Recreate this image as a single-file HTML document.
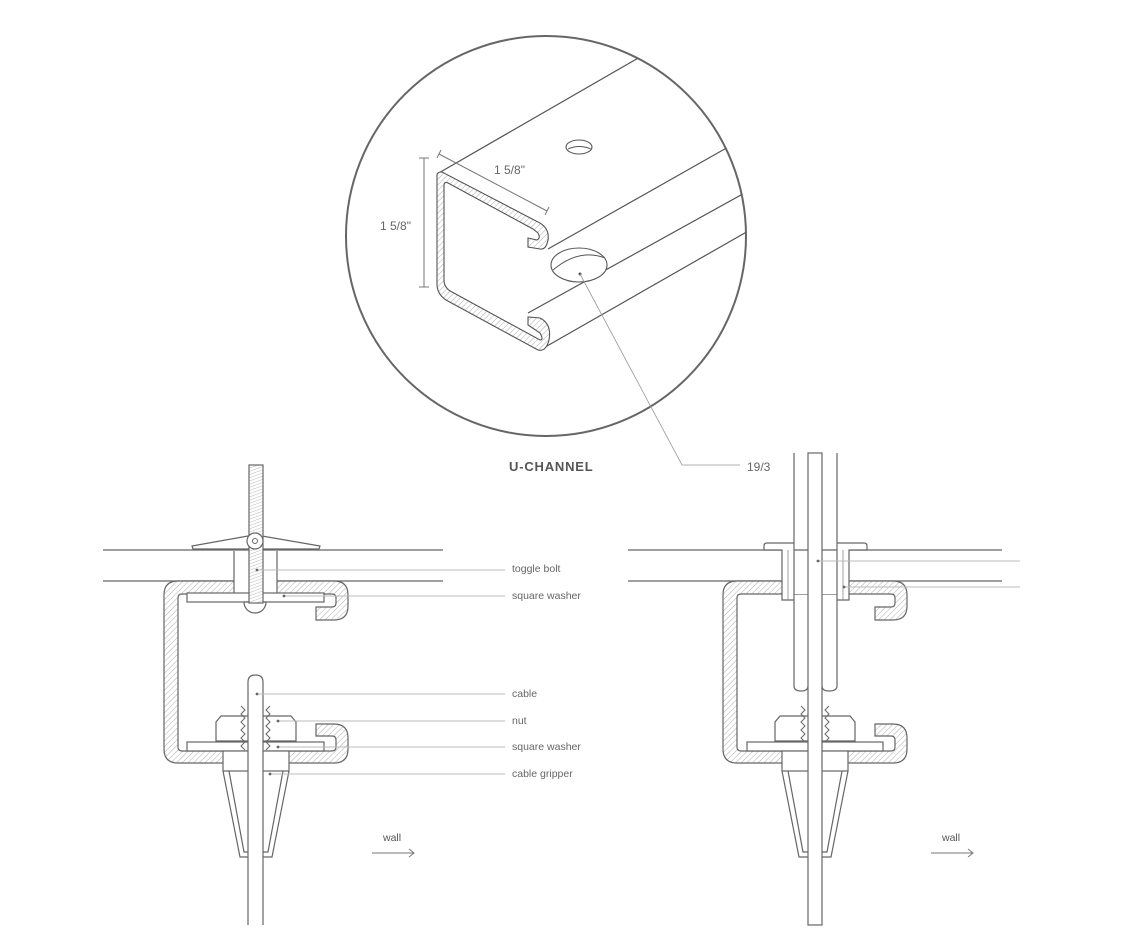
<!DOCTYPE html>
<html><head><meta charset="utf-8"><style>
html,body{margin:0;padding:0;background:#fff}
svg{display:block}
text{font-family:"Liberation Sans",sans-serif;fill:#666}
</style></head><body>
<svg width="1125" height="934" viewBox="0 0 1125 934" xmlns="http://www.w3.org/2000/svg">
<defs>
<pattern id="h" width="4" height="4" patternUnits="userSpaceOnUse" patternTransform="rotate(45)">
<rect width="4" height="4" fill="#fff"/><line x1="0" y1="0" x2="0" y2="4" stroke="#999" stroke-width="0.8"/>
</pattern>
<pattern id="th" width="4" height="3" patternUnits="userSpaceOnUse" patternTransform="rotate(-20)">
<rect width="4" height="3" fill="#fff"/><line x1="0" y1="0" x2="4" y2="0" stroke="#999" stroke-width="0.7"/>
</pattern>
<clipPath id="cc"><circle cx="546" cy="236" r="200"/></clipPath>
<g id="ch">
<path d="M316 620 L334 620 Q348 620 348 606 L348 595 Q348 581 334 581 L178 581 Q164 581 164 595 L164 749 Q164 763 178 763 L334 763 Q348 763 348 749 L348 738 Q348 724 334 724 L316 724 L316 736 L332 736 Q336 736 336 740 L336 747 Q336 751 332 751 L182 751 Q178 751 178 747 L178 598 Q178 594 182 594 L332 594 Q336 594 336 598 L336 603 Q336 607 332 607 L316 607 Z" fill="url(#h)" stroke="#666" stroke-width="1.2"/>
</g>
</defs>

<!-- TOP CIRCLE -->
<circle cx="546" cy="236" r="200" fill="none" stroke="#666" stroke-width="2"/>
<g clip-path="url(#cc)" stroke="#555" stroke-width="1.2" fill="none">
<line x1="437" y1="174" x2="640" y2="57"/>
<line x1="548" y1="249" x2="730" y2="146"/>
<line x1="528" y1="313" x2="750" y2="190"/>
<line x1="540" y1="350" x2="750" y2="230"/>
</g>
<path d="M437 175 Q437 172 442 172 L536 221 Q550 227 548 240 Q546 250 540 249 L528 247 L528 238 L537 240 Q541 238 538 233 L533 229 L448 183 Q444 181 444 186 L444 280 Q444 288 452 292 L540 340 Q544 340 540 333 L528 325 L528 317 L540 318 Q552 324 549 340 Q546 352 538 350 L446 300 Q437 294 437 284 Z" fill="url(#h)" stroke="#555" stroke-width="1.1"/>
<ellipse cx="579" cy="147" rx="13" ry="7" fill="#fff" stroke="#555" stroke-width="1.1"/>
<path d="M568 149 Q579 144 591 149" fill="none" stroke="#555" stroke-width="0.9"/>
<ellipse cx="579" cy="265" rx="28" ry="17" fill="#fff" stroke="#555" stroke-width="1.1"/>
<path d="M553 270 Q579 248 605 258" fill="none" stroke="#555" stroke-width="0.9"/>
<circle cx="580" cy="274" r="1.5" fill="#555"/>
<polyline points="580,274 682,465 740,465" fill="none" stroke="#999" stroke-width="0.8"/>
<!-- dimensions -->
<g stroke="#777" stroke-width="1" fill="none">
<line x1="424" y1="158" x2="424" y2="287"/>
<line x1="419" y1="158" x2="429" y2="158"/><line x1="419" y1="287" x2="429" y2="287"/>
<line x1="439" y1="154" x2="547" y2="211"/>
<line x1="437" y1="158" x2="441" y2="150"/><line x1="545" y1="215" x2="549" y2="207"/>
</g>
<text x="380" y="230" font-size="12">1 5/8"</text>
<text x="494" y="174" font-size="12">1 5/8"</text>
<text x="509" y="471" font-size="13" font-weight="bold" letter-spacing="0.8" style="fill:#555">U-CHANNEL</text>
<text x="747" y="471" font-size="12">19/3</text>
<rect x="770" y="455" width="20" height="20" fill="#fff"/>

<!-- LEFT DIAGRAM -->
<g stroke="#666" stroke-width="1.2" fill="none">
<line x1="103" y1="550" x2="443" y2="550"/>
<line x1="103" y1="581" x2="443" y2="581"/>
</g>
<use href="#ch"/>
<rect x="234" y="551" width="43" height="43" fill="#fff"/>
<line x1="234" y1="551" x2="234" y2="593" stroke="#666" stroke-width="1.2"/>
<line x1="277" y1="551" x2="277" y2="593" stroke="#666" stroke-width="1.2"/>
<rect x="187" y="593" width="137" height="9" fill="#fff" stroke="#666" stroke-width="1.2"/>
<path d="M244 602 A11 11 0 0 0 266 602 Z" fill="#fff" stroke="#666" stroke-width="1.2"/>
<polygon points="193,549 192,546 248,536 262,536 320,546 319,549" fill="#fff" stroke="#666" stroke-width="1.2"/>
<rect x="249" y="465" width="14" height="138" fill="url(#th)" stroke="#666" stroke-width="1.2"/>
<circle cx="255" cy="541" r="8" fill="#fff" stroke="#666" stroke-width="1.2"/>
<circle cx="255" cy="541" r="2.5" fill="#fff" stroke="#666" stroke-width="1"/>
<!-- bottom assembly -->
<path d="M216 741 L216 722 L221 716 L291 716 L296 722 L296 741 Z" fill="#fff" stroke="#666" stroke-width="1.2"/>
<rect x="187" y="742" width="137" height="9" fill="#fff" stroke="#666" stroke-width="1.2"/>
<path d="M241 706 L245 710 L241 714 L245 718 L241 722 L245 726 L241 730 L245 734 L241 738 L245 742 L241 746 L245 750 M270 706 L266 710 L270 714 L266 718 L270 722 L266 726 L270 730 L266 734 L270 738 L266 742 L270 746 L266 750" fill="none" stroke="#666" stroke-width="1"/>
<rect x="223" y="751" width="66" height="20" fill="#fff" stroke="#666" stroke-width="1.2"/>
<path d="M223 771 L240 857 L272 857 L289 771 M229 771 L244 852 L268 852 L283 771" fill="none" stroke="#666" stroke-width="1.2"/>
<path d="M248 925 L248 682 Q248 675 255.5 675 Q263 675 263 682 L263 925" fill="#fff" stroke="#666" stroke-width="1.2"/>
<!-- leaders left -->
<g stroke="#bbb" stroke-width="0.9">
<line x1="257" y1="570" x2="505" y2="570"/>
<line x1="284" y1="596" x2="505" y2="596"/>
<line x1="257" y1="694" x2="505" y2="694"/>
<line x1="278" y1="721" x2="505" y2="721"/>
<line x1="278" y1="747" x2="505" y2="747"/>
<line x1="270" y1="774" x2="505" y2="774"/>
</g>
<g fill="#666">
<circle cx="257" cy="570" r="1.4"/><circle cx="284" cy="596" r="1.4"/><circle cx="257" cy="694" r="1.4"/>
<circle cx="278" cy="721" r="1.4"/><circle cx="278" cy="747" r="1.4"/><circle cx="270" cy="774" r="1.4"/>
</g>
<g font-size="10.5">
<text x="512" y="572">toggle bolt</text>
<text x="512" y="599">square washer</text>
<text x="512" y="697">cable</text>
<text x="512" y="724">nut</text>
<text x="512" y="750">square washer</text>
<text x="512" y="777">cable gripper</text>
</g>
<text x="383" y="841" font-size="10.5" style="fill:#555">wall</text>
<path d="M372 853 L414 853 M409 849 L414 853 L409 857" fill="none" stroke="#777" stroke-width="1"/>

<!-- RIGHT DIAGRAM -->
<g stroke="#666" stroke-width="1.2" fill="none">
<line x1="628" y1="550" x2="1002" y2="550"/>
<line x1="628" y1="581" x2="1002" y2="581"/>
</g>
<use href="#ch" transform="translate(559,0)"/>
<rect x="782" y="551" width="67" height="43" fill="#fff"/>
<path d="M794 543 L767 543 Q764 543 764 546 L764 550 L782 550 L782 600 L794 600" fill="#fff" stroke="#666" stroke-width="1.2"/>
<path d="M837 543 L864 543 Q867 543 867 546 L867 550 L849 550 L849 600 L837 600" fill="#fff" stroke="#666" stroke-width="1.2"/>
<line x1="788" y1="550" x2="788" y2="600" stroke="#888" stroke-width="0.8"/>
<line x1="843" y1="550" x2="843" y2="600" stroke="#888" stroke-width="0.8"/>
<path d="M775 741 L775 722 L780 716 L850 716 L855 722 L855 741 Z" fill="#fff" stroke="#666" stroke-width="1.2"/>
<rect x="747" y="742" width="136" height="9" fill="#fff" stroke="#666" stroke-width="1.2"/>
<path d="M801 706 L805 710 L801 714 L805 718 L801 722 L805 726 L801 730 L805 734 L801 738 L805 742 M829 706 L825 710 L829 714 L825 718 L829 722 L825 726 L829 730 L825 734 L829 738 L825 742" fill="none" stroke="#666" stroke-width="1"/>
<rect x="782" y="751" width="66" height="20" fill="#fff" stroke="#666" stroke-width="1.2"/>
<path d="M782 771 L799 857 L831 857 L848 771 M788 771 L803 852 L827 852 L842 771" fill="none" stroke="#666" stroke-width="1.2"/>
<g stroke="#666" stroke-width="1.2" fill="none">
<path d="M794 453 L794 686 Q794 691 801 691 Q808 691 808 686"/>
<path d="M822 686 Q822 691 829 691 Q837 691 837 686 L837 453"/>
<rect x="808" y="453" width="14" height="472" fill="#fff"/>
</g>
<g stroke="#bbb" stroke-width="0.9">
<line x1="818" y1="561" x2="1020" y2="561"/>
<line x1="844" y1="587" x2="1020" y2="587"/>
</g>
<circle cx="818" cy="561" r="1.4" fill="#666"/><circle cx="844" cy="587" r="1.4" fill="#666"/>
<text x="942" y="841" font-size="10.5" style="fill:#555">wall</text>
<path d="M931 853 L973 853 M968 849 L973 853 L968 857" fill="none" stroke="#777" stroke-width="1"/>
</svg>
</body></html>
